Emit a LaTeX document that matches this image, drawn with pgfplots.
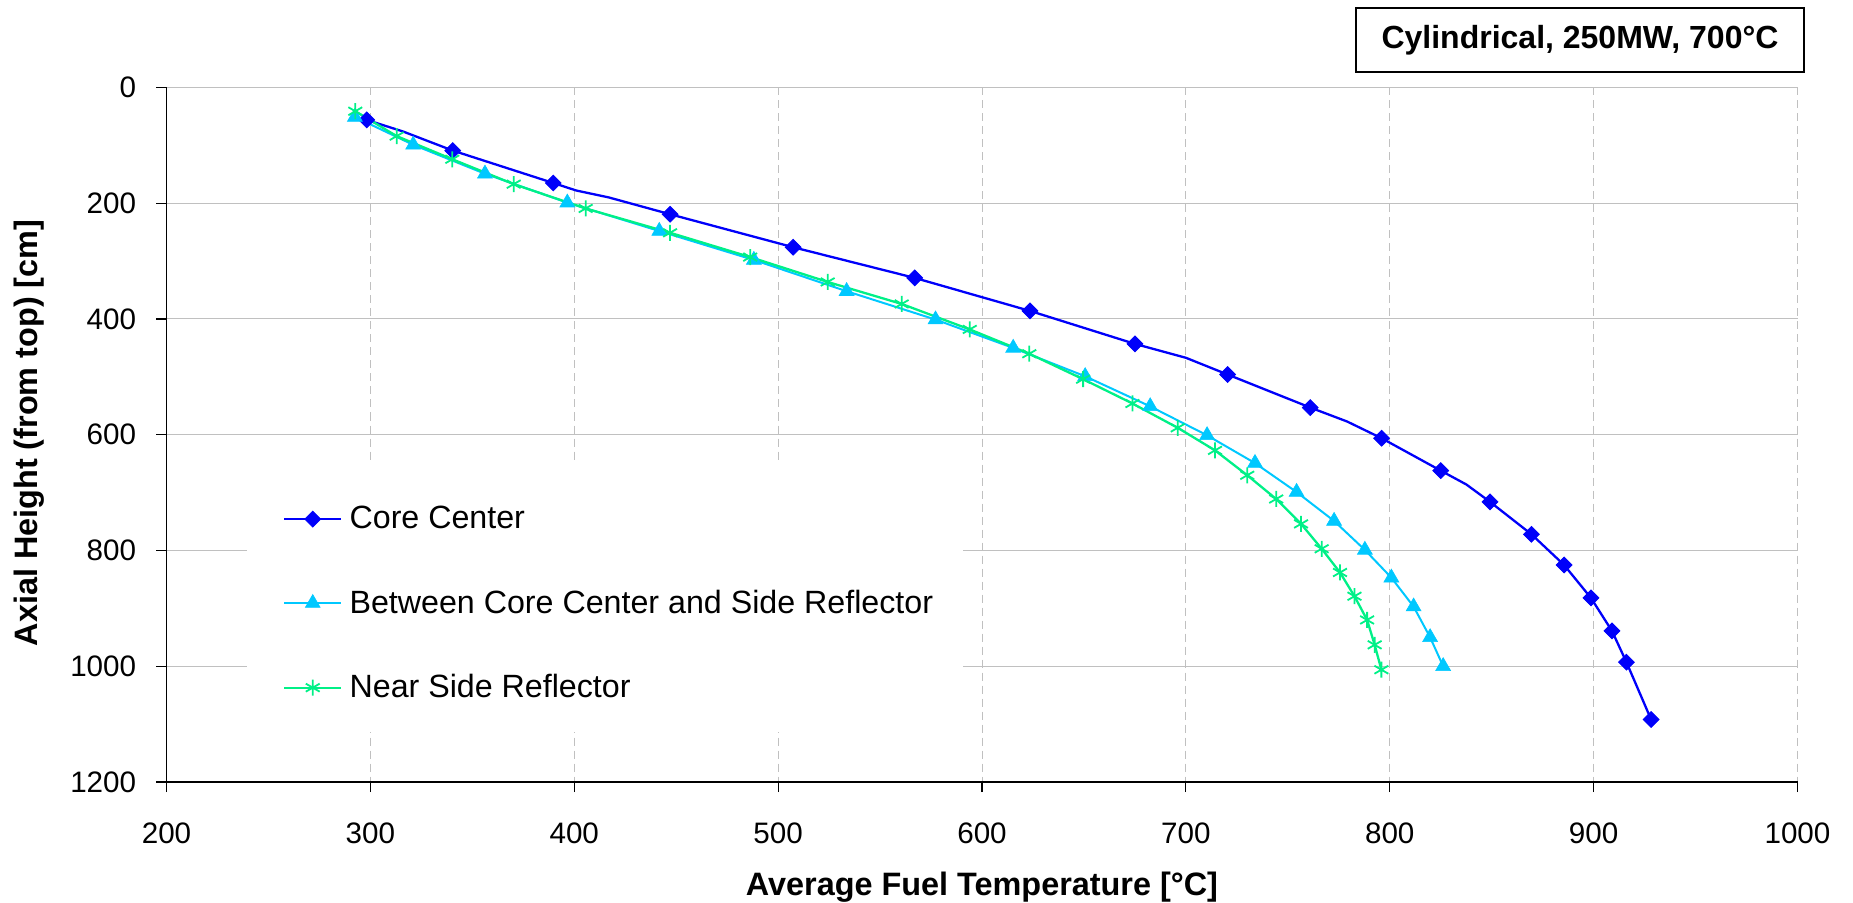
\documentclass[border=0pt]{standalone}
\usepackage{fontspec}
\setmainfont{Liberation Sans}
\usepackage{pgfplots}
\pgfplotsset{compat=1.18}

\definecolor{coreblue}{RGB}{0,0,250}
\definecolor{midcyan}{RGB}{0,200,255}
\definecolor{neargreen}{RGB}{0,240,135}
\definecolor{gridgray}{RGB}{192,192,192}

\begin{document}
\begin{tikzpicture}[x=1pt,y=1pt]
\path[use as bounding box] (0,0) rectangle (926.5,451.5);
\begin{axis}[
  at={(83.25pt,60.5pt)}, anchor=south west,
  scale only axis, width=815.5pt, height=347.25pt,
  xmin=200, xmax=1000, ymin=0, ymax=1200,
  y dir=reverse,
  xtick={200,300,...,1000}, ytick={0,200,...,1200},
  axis x line*=bottom, axis y line*=left,
  axis line style={black, line width=0.6pt, -},
  tick align=outside, major tick length=5pt,
  tick style={black, line width=0.6pt},
  xmajorgrids, ymajorgrids,
  x grid style={gridgray, line width=0.5pt, dash pattern=on 4pt off 2.5pt},
  y grid style={gridgray, line width=0.5pt},
  /pgf/number format/assume math mode=true,
  /pgf/number format/1000 sep={},
  tick label style={font=\fontsize{14.8}{17}\selectfont},
  xticklabel style={anchor=north, inner sep=0pt, yshift=-15pt},
  yticklabel style={anchor=east, inner sep=0pt, xshift=-10pt},
  legend style={draw=none, fill=none, at={(axis cs:257,716)}, anchor=north west,
    inner sep=0pt, row sep=25.1pt, column sep=1.6pt,
    font=\fontsize{16.1}{18}\selectfont, cells={anchor=west}},
  legend cell align=left,
  legend image code/.code={\draw[#1, mark indices={2}] plot coordinates {(0pt,0pt) (14.25pt,0pt) (28.5pt,0pt)};},
]
% blank panel behind the legend
\fill[white] (axis cs:239.5,648) rectangle (axis cs:590.6,1114);

% Core Center: line through every node, diamonds on the main nodes
\addplot[coreblue, line width=1.15pt, mark=square*, mark size=2.8pt,
  mark options={rotate=45, fill=coreblue, draw=coreblue, line width=0.4pt},
  mark indices={1,3,4,7,8,9,10,11,13,14,16,17,19,20,21,22,23,24,25}]
coordinates {
(298.2,56) (316,76) (340.4,109) (389.7,165) (401,178) (417,190) (447,219)
(507.4,276) (567,329) (623.5,386) (675,443) (700,467) (720.5,496)
(761,553) (779,577) (796,606) (825,662) (837.6,686) (849.2,716)
(869.5,772) (885.5,825) (898.7,882) (909,939) (916.1,993) (928.2,1092)
};
\addlegendentry{Core Center}

% Between Core Center and Side Reflector
\addplot[midcyan, line width=1pt, mark=triangle*, mark size=4.3pt,
  mark options={fill=midcyan, draw=midcyan, line width=0.3pt}]
coordinates {
(292.4,51) (321,99) (356.2,149) (396.6,199) (441.7,248) (488.1,298)
(533.6,352) (577.2,401) (615.3,450) (650.6,499) (682.5,551) (710.4,601)
(733.9,649) (754.3,699) (772.7,749) (787.8,799) (800.8,847) (811.7,897)
(819.8,950) (826.2,1000)
};
\addlegendentry{Between Core Center and Side Reflector}

% Near Side Reflector
\addplot[neargreen, line width=1.15pt, mark=asterisk, mark size=4pt,
  mark options={draw=neargreen, line width=0.9pt}]
coordinates {
(292.6,41) (312.9,84) (340.2,124) (370.3,167) (405.6,209) (447,251)
(486.3,293) (524.3,336) (560.6,374) (594,418) (623.2,460) (649.6,504)
(673.8,546) (696,588) (714.3,627) (730.1,670) (744.3,711) (756.5,754)
(766.6,797) (775.6,838) (782.7,879) (788.9,920) (792.6,963) (795.9,1006)
};
\addlegendentry{Near Side Reflector}
\end{axis}

% axis titles
\node[anchor=base, font=\bfseries\fontsize{16.2}{19}\selectfont] at (491,3.5) {Average Fuel Temperature [°C]};
\node[anchor=base, rotate=90, font=\bfseries\fontsize{16.2}{19}\selectfont] at (18.8,235) {Axial Height (from top) [cm]};

% case label
\node[draw=black, line width=1pt, minimum width=224.3pt, minimum height=32.2pt, inner sep=0pt,
  font=\bfseries\fontsize{16}{19}\selectfont] at (790,431.5) {Cylindrical, 250MW, 700°C};
\end{tikzpicture}
\end{document}
